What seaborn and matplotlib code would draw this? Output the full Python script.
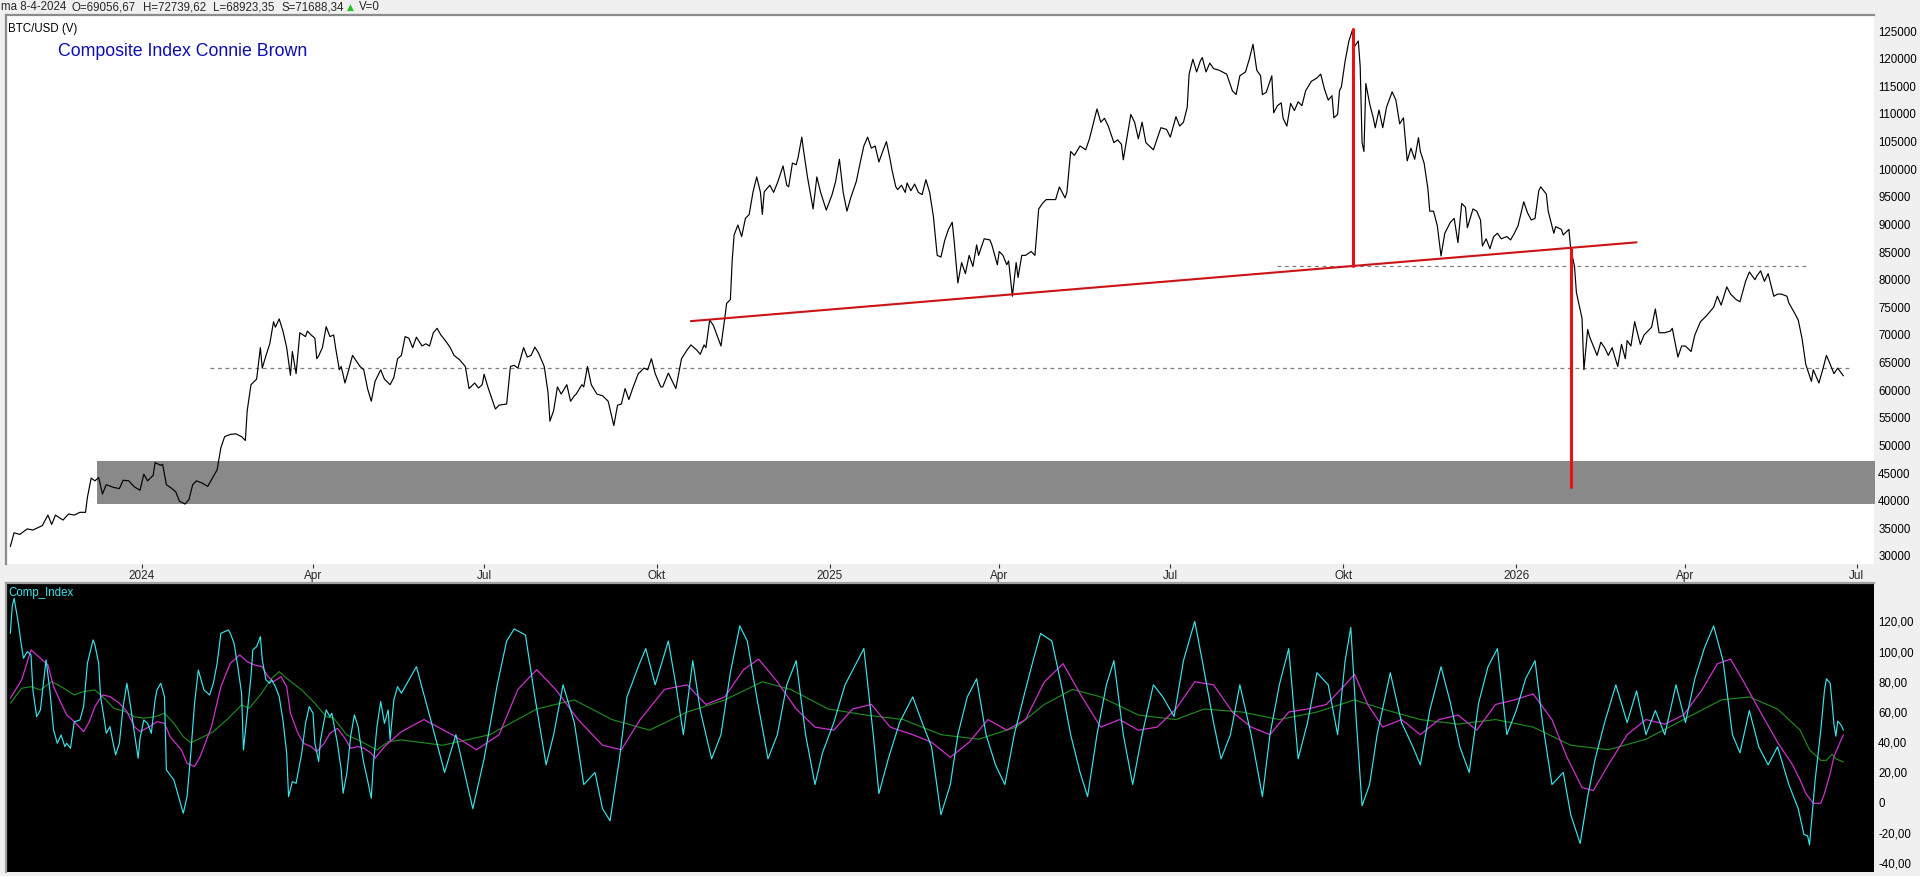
import numpy as np
import pandas as pd
import matplotlib
matplotlib.use("Agg")
import matplotlib.pyplot as plt
import matplotlib.ticker as mticker
import seaborn as sns

# ---------------- data ----------------
BASE = "2024-01-01"
# BTC/USD close, day offset from BASE and value in thousands USD
price_days = [-70,-68,-65,-61,-58,-53,-50,-48,-46,-42,-39,-36,-33,-30,-29,-27,-25,-23,-21,-19,
              -15,-12,-10,-7,-4,-1,1,3,6,7,10,11,13,16,18,20,23,25,27,29,
              32,35,37,40,42,44,47,50,53,55,56,58,61,63,64,66,68,70,71,73,
              75,77,79,80,82,84,87,88,90,92,93,94,96,98,100,102,103,105,106,108,
              110,112,114,116,118,120,122,124,127,129,132,134,136,138,140,142,144,146,149,151,
              153,155,157,159,162,164,166,169,172,174,177,179,181,182,184,188,190,194,196,198,
              200,203,205,207,209,211,214,216,217,219,221,223,226,228,230,231,234,235,237,239,
              242,245,248,251,253,255,257,259,261,264,265,
              267,269,271,273,276,277,280,283,284,287,290,292,295,297,299,300,302,304,308,310,
              311,313,314,315,317,319,321,323,325,327,329,330,331,334,336,338,339,341,343,344,
              346,348,349,351,352,354,357,359,361,364,367,369,371,373,375,377,380,382,384,386,
              388,390,392,394,396,398,399,401,402,404,406,407,409,411,413,415,417,419,421,423,
              425,427,429,431,432,434,436,438,440,442,444,445,448,451,452,455,456,458,460,461,
              463,465,466,468,470,473,475,477,479,481,483,486,488,491,492,494,496,499,502,504,
              506,508,510,512,514,517,519,521,522,526,528,530,532,534,538,540,542,545,547,550,
              552,554,556,557,559,561,563,564,566,568,570,573,577,580,582,584,587,589,591,593,
              595,596,598,601,602,604,
              606,607,609,611,613,615,617,619,622,625,627,629,631,633,634,636,637,638,640,642,
              644,645,647,648,649,650,651,653,655,656,658,660,662,665,667,669,671,672,673,675,
              677,679,680,682,684,685,687,689,691,693,696,698,700,702,704,705,708,710,712,713,
              715,717,719,721,723,726,728,730,732,735,737,739,741,743,744,747,748,751,752,755,
              756,759,760,762,763,766,767,769,770,774,776,778,780,782,785,787,789,790,792,794,
              795,797,799,801,803,805,807,810,813,814,817,819,821,824,826,829,832,836,838,840,
              843,845,848,850,853,855,858,859,861,863,865,868,870,872,875,876,879,881,883,885,
              888,889,892,894,896,898,900,902,905]
price_k = [31.7,34.2,33.9,34.9,34.7,35.5,37.4,35.7,37.4,36.5,37.6,37.4,37.9,37.9,40.6,44.1,43.6,44.2,41.2,42.9,
           42.4,42.2,43.7,43.6,42.5,41.9,44.8,43.6,44.6,46.9,46.4,46.6,42.9,42.2,41.6,39.9,39.4,40.2,42.9,43.6,
           43.2,42.6,43.8,45.6,49.6,51.6,52.0,52.1,51.6,50.9,56.3,61.0,62.0,67.7,64.0,66.3,68.4,72.4,71.4,72.9,
           70.7,67.7,62.7,67.0,63.0,70.4,69.7,70.7,70.0,69.4,65.7,66.2,67.7,71.5,69.7,70.0,67.7,63.7,64.3,61.3,
           63.7,66.3,65.3,64.3,63.7,60.3,58.0,61.6,63.7,62.0,61.0,62.3,65.7,66.3,69.7,69.4,67.7,69.6,68.0,68.4,
           68.0,70.4,71.2,70.0,68.7,67.7,66.3,65.5,64.3,60.3,61.3,60.4,61.0,62.9,60.6,56.6,57.3,57.5,64.3,64.5,
           64.0,67.7,66.0,66.3,67.8,66.7,64.3,59.6,54.4,56.3,60.6,59.3,61.0,58.0,59.0,59.3,61.0,60.6,64.3,61.0,
           59.3,59.0,58.0,53.6,57.3,57.5,60.3,58.3,60.3,63.0,63.3,
           64.0,63.7,65.7,63.0,60.6,60.6,63.1,61.0,60.3,65.7,67.3,68.2,67.3,66.5,68.2,67.7,72.7,71.7,68.0,73.0,
           75.7,76.4,83.7,88.1,89.9,87.8,91.1,91.8,95.8,98.6,95.8,91.8,95.9,97.1,95.8,97.5,98.5,100.6,97.1,96.8,
           101.1,100.8,102.1,105.8,103.2,98.6,92.8,98.6,95.8,92.6,95.3,97.8,101.8,95.8,92.4,94.8,97.8,101.1,104.2,105.8,
           103.8,104.2,101.3,103.2,105.0,101.7,99.8,96.8,96.3,97.1,95.8,97.5,96.1,97.3,95.8,95.4,98.1,95.8,91.4,84.4,
           84.1,87.1,89.1,90.4,87.1,79.4,83.1,81.1,84.4,82.4,86.3,84.4,87.4,87.2,86.4,82.7,85.1,84.4,82.7,83.4,
           77.0,83.1,80.4,84.4,84.4,85.1,84.4,92.8,93.8,94.5,94.5,94.5,96.8,94.8,95.8,103.2,102.5,104.2,103.5,105.5,
           108.2,110.9,108.5,109.2,107.8,104.8,105.3,104.5,101.7,109.9,108.5,105.5,108.5,104.8,103.5,105.5,107.5,107.2,105.8,109.5,
           107.8,108.5,111.2,117.2,119.9,117.6,119.6,120.2,117.6,119.2,118.2,117.9,117.2,114.2,113.5,116.9,117.6,119.9,122.6,117.9,
           116.9,113.5,113.9,116.9,110.2,111.5,
           112.0,109.2,107.8,111.9,110.6,112.2,111.5,114.2,115.9,116.5,117.2,114.5,112.5,113.3,109.3,109.9,114.2,114.9,119.6,123.2,
           125.3,122.2,123.2,118.6,104.8,103.2,115.5,111.9,109.2,107.5,110.7,107.5,111.2,114.0,112.5,108.2,109.3,105.5,101.5,103.8,
           101.8,105.7,103.2,101.1,96.5,92.4,92.4,89.8,84.3,88.4,90.4,91.1,86.7,93.8,93.1,89.4,92.8,92.4,90.8,86.1,
           87.4,85.6,87.8,88.4,87.4,87.8,87.2,88.4,89.8,94.1,92.1,90.8,91.1,96.1,96.8,95.5,92.4,88.4,89.6,89.1,
           88.1,89.1,85.6,82.4,77.7,73.0,63.7,71.0,69.7,66.3,68.7,67.7,66.3,67.7,64.3,68.3,65.7,69.0,68.0,72.4,
           71.0,68.3,70.0,70.7,71.4,74.7,70.4,70.4,70.7,71.2,66.0,68.0,68.0,67.0,70.0,72.4,73.4,75.0,77.0,75.4,
           78.7,77.4,76.4,76.0,79.7,81.4,80.0,80.7,81.6,79.7,81.1,77.0,77.4,77.4,77.0,75.8,74.0,72.7,69.4,64.7,
           61.6,63.7,61.3,63.7,66.3,64.7,63.0,64.0,62.6]

# Composite index (cyan)
ci_days = [-70,-69,-68,-66,-64,-63,-61,-59,-58,-56,-54,-52,-51,-49,-47,-45,-43,-41,-40,-38,
           -36,-33,-31,-29,-26,-25,-23,-22,-20,-19,-17,-16,-14,-12,-10,-8,-6,-4,-2,-1,
           1,3,5,7,8,10,12,13,15,17,19,21,22,24,26,28,30,31,33,36,
           38,40,42,44,46,47,49,51,53,54,56,58,59,61,63,64,66,68,69,71,
           73,75,77,78,80,82,85,87,89,91,92,94,95,98,100,101,104,106,107,109,
           111,113,115,116,118,120,122,123,125,127,129,131,132,134,136,138,
           146,154,161,167,176,182,189,194,198,204,209,215,219,224,230,235,241,245,249,254,
           258,264,268,273,280,284,288,293,297,303,308,313,318,322,327,333,338,343,348,353,
           358,362,368,374,379,384,389,392,397,403,410,415,420,425,430,434,439,444,449,454,
           459,464,469,474,478,484,489,494,499,503,508,513,517,522,527,532,538,543,549,554,
           560,564,570,574,579,584,590,596,600,605,610,615,620,625,631,636,640,643,646,649,
           653,657,664,670,676,680,685,691,696,701,706,711,716,721,726,731,736,741,745,750,
           756,760,765,769,773,778,784,790,795,800,805,810,816,821,826,831,836,841,846,850,
           855,860,865,870,876,881,884,886,887,889,890,893,895,896,898,899,900,901,902,904,905]
ci_vals = [112.1,129.8,135.3,120.9,103.3,95.6,100,97.8,74.6,56.9,61.4,83.4,94.5,74.6,48.1,39.3,44.8,37.1,39.3,36,
           53.6,54.7,63.6,92.2,107.7,104.4,92.2,70.2,54.7,45.9,50.3,43.7,31.6,39.3,63.6,79,63.6,45.9,29.4,42.6,
           54.7,52.5,45.9,68,74.6,79,70.2,21.7,18.4,15,6.2,-2.6,-7,4,32.7,65.8,87.8,83.4,74.6,71.3,
           79,92.2,112.1,113.2,114.3,112.1,105.5,90,72.4,34.9,59.2,83.4,101.1,103.3,109.9,94.5,81.2,79,81.2,76.8,
           70.2,54.7,32.7,4,13.9,12.8,32.7,52.5,63.6,59.2,39.3,27.2,41.5,61.4,56.9,59.2,39.3,21.7,6.2,19.5,
           43.7,58.1,50.3,41.5,26.1,15,2.9,23.9,50.3,66.9,52.5,61.4,41.5,68,76.8,72.4,
           90,53,20,45,-4,29,78,107,115,111,70,25,45,78,53,12,20,-4,-12,29,
           70,90,102,78,107,78,45,94,61,29,45,86,117,107,70,29,45,78,94,45,
           12,33,53,78,90,102,45,6,29,53,70,53,37,-8,12,45,70,82,45,25,
           12,45,70,94,112,107,78,45,20,4,45,78,94,45,12,45,78,70,57,94,
           120,94,53,29,45,78,45,4,45,78,102,29,53,86,78,45,94,116,53,-2,
           12,45,86,53,37,25,61,90,66,37,20,66,90,102,45,61,82,94,53,12,
           20,-8,-27,4,29,53,78,53,74,45,61,45,78,53,82,102,117,94,45,33,
           61,37,25,37,12,-4,-21,-22,-28,1,15,48,75,82,79,66,52,44,54,51,48]
# fast average (magenta)
fast_days = [-70,-64,-59,-54,-50,-47,-43,-40,-36,-31,-28,-25,-21,-17,-12,-8,-4,-1,4,8,
             12,15,21,24,28,31,37,42,47,52,56,60,64,67,70,74,77,79,83,86,
             90,93,97,100,104,108,111,115,118,122,124,129,132,138,
             150,165,178,190,200,210,220,232,245,255,265,278,290,300,310,320,328,338,348,358,
             368,378,388,398,410,420,430,440,450,460,470,480,490,500,510,520,530,540,550,560,
             570,580,590,600,610,620,630,640,645,652,660,670,680,690,700,710,720,730,740,750,
             758,766,772,780,790,800,810,820,830,838,845,852,860,870,878,882,885,889,893,895,
             898,900,903,905]
fast_vals = [69.1,81.2,101.1,95.6,91.1,76.8,65.8,58.1,53.6,47,53.6,63.6,71.3,70.2,65.8,60.3,50.3,47,50.3,53.6,
             52.5,43.7,34.9,26.1,23.9,30.5,50.3,76.8,92.2,97.8,93.3,91.1,90,83.4,80.1,83.4,76.8,59.2,45.9,39.3,
             37.1,33.8,39.3,45.9,49.2,42.6,36,37.1,36,32.7,29.4,37.1,40.4,47,
             55,45,35,45,75,88,75,55,38,35,55,75,78,65,70,88,95,80,62,50,
             48,62,65,50,45,40,30,40,55,48,55,80,92,70,50,55,48,50,62,80,
             78,60,50,45,60,62,65,78,85,65,50,55,45,55,58,48,65,68,72,55,
             30,10,8,25,45,55,52,58,75,92,95,80,62,40,25,15,6.2,-0.4,-0.4,6.2,
             19.4,30.5,39.3,44.8]
# slow average (green)
slow_days = [-70,-64,-59,-54,-48,-43,-36,-31,-25,-20,-15,-9,-4,1,7,12,17,22,26,31,
             38,46,53,57,63,69,73,77,85,92,98,102,109,115,120,125,131,138,
             160,185,210,230,250,270,290,310,330,345,365,385,405,425,445,465,480,495,510,530,
             550,565,585,605,625,645,660,680,700,720,740,760,780,800,820,840,855,870,882,887,
             893,896,899,901,905]
slow_vals = [65.8,75.7,76.8,74.6,80.1,76.8,71.3,73.5,74.6,69.1,62.5,60.3,56.9,55.9,56.9,59.2,52.5,43.7,39.7,42.6,
             47,55.9,64.7,62.5,71.3,82.3,86.7,82.3,74.6,65.8,56.9,55.9,44.8,41.5,38.2,34.9,40.4,41.5,
             38,45,62,68,55,48,60,68,80,75,62,58,55,45,42,50,65,75,70,58,
             55,62,60,55,60,68,62,55,52,55,50,38,35,42,55,68,70,62,48,35,
             28,28,32,29,27]

# annotation lines
neck_days = [292, 795]
neck_vals = [72500, 86760]
vline1_day, vline1_vals = 644, [82400, 125400]
vline2_day, vline2_vals = 760, [42400, 85600]
band_days = [-24, 940]
band_vals = [39450, 47200]
dash_low = ([36, 908], 64100)
dash_high = ([604, 885], 82400)

price_ticks = list(range(30000, 125001, 5000))
ci_ticks = list(range(-40, 121, 20))
xtick_labels = ["2024", "Apr", "Jul", "Okt", "2025", "Apr", "Jul", "Okt", "2026", "Apr", "Jul"]
xtick_dates = ["2024-01-01", "2024-04-01", "2024-07-01", "2024-10-01", "2025-01-01", "2025-04-01",
               "2025-07-01", "2025-10-01", "2026-01-01", "2026-04-01", "2026-07-01"]

# ---------------- helpers ----------------
base = pd.Timestamp(BASE)
def to_dates(days):
    return base + pd.to_timedelta(np.asarray(days, dtype=float), unit="D")

assert len(price_days) == len(price_k), (len(price_days), len(price_k))
assert len(ci_days) == len(ci_vals), (len(ci_days), len(ci_vals))
assert len(fast_days) == len(fast_vals), (len(fast_days), len(fast_vals))
assert len(slow_days) == len(slow_vals), (len(slow_days), len(slow_vals))

price_df = pd.DataFrame({"date": to_dates(price_days), "close": np.array(price_k) * 1000})
ci_df = pd.DataFrame({"date": to_dates(ci_days), "ci": ci_vals})
fast_df = pd.DataFrame({"date": to_dates(fast_days), "v": fast_vals})
slow_df = pd.DataFrame({"date": to_dates(slow_days), "v": slow_vals})

sns.set_style("white")
plt.rcParams["font.family"] = ["Liberation Sans", "DejaVu Sans"]

W, H = 1920, 876
fig = plt.figure(figsize=(W / 100, H / 100), dpi=100, facecolor="#f0f0f0")
L, R = 6, 1874
ax1 = fig.add_axes([L / W, 1 - 564 / H, (R - L) / W, (564 - 15) / H])
ax2 = fig.add_axes([L / W, 1 - 872 / H, (R - L) / W, (872 - 583) / H])

xlim = (base + pd.Timedelta(days=-72.3), base + pd.Timedelta(days=921.3))

# ---------------- top panel ----------------
ax1.set_facecolor("white")
ax1.fill_between(to_dates(band_days), band_vals[0], band_vals[1], color="#898989", lw=0, zorder=1)
ax1.plot(to_dates(dash_low[0]), [dash_low[1]] * 2, color="#7f7f7f", lw=0.9, ls=(0, (3, 3)), zorder=2)
ax1.plot(to_dates(dash_high[0]), [dash_high[1]] * 2, color="#7f7f7f", lw=0.9, ls=(0, (3, 3)), zorder=2)
sns.lineplot(data=price_df, x="date", y="close", ax=ax1, color="black", lw=0.85,
             estimator=None, sort=False, zorder=3)
ax1.plot(to_dates(neck_days), neck_vals, color="#c81414", lw=1.5, zorder=4)
ax1.plot(to_dates([vline1_day] * 2), vline1_vals, color="#e81010", lw=2.2, zorder=4)
ax1.plot(to_dates([vline2_day] * 2), vline2_vals, color="#e81010", lw=2.2, zorder=4)

ax1.set_xlim(*xlim)
ax1.set_ylim(28550, 127900)
ax1.yaxis.tick_right()
ax1.set_yticks(price_ticks)
ax1.yaxis.set_major_formatter(mticker.FuncFormatter(lambda v, p: f"{int(round(v))}"))
ax1.set_xticks(pd.to_datetime(xtick_dates))
ax1.set_xticklabels(xtick_labels)
ax1.tick_params(axis="y", length=0, pad=3, labelsize=8.3, labelcolor="black")
ax1.tick_params(axis="x", length=3, width=0.8, direction="out", pad=1, labelsize=8.5,
                color="#333333", bottom=True)
ax1.set_xlabel("")
ax1.set_ylabel("")
for s in ["right", "bottom"]:
    ax1.spines[s].set_visible(False)
for s in ["left", "top"]:
    ax1.spines[s].set_color("#8c8c8c")
    ax1.spines[s].set_linewidth(1.6)

ax1.text(0.0012, 0.985, "BTC/USD (V)", transform=ax1.transAxes, ha="left", va="top",
         fontsize=8.3, color="black")
ax1.text(52 / (R - L), 1 - (51 - 15) / (564 - 15), "Composite Index Connie Brown",
         transform=ax1.transAxes, ha="left", va="center", fontsize=12.8, color="#0c0cb4")

# ---------------- bottom panel ----------------
ax2.set_facecolor("black")
sns.lineplot(data=slow_df, x="date", y="v", ax=ax2, color="#1f8a1f", lw=0.85, estimator=None, sort=False)
sns.lineplot(data=fast_df, x="date", y="v", ax=ax2, color="#d030d0", lw=0.9, estimator=None, sort=False)
sns.lineplot(data=ci_df, x="date", y="ci", ax=ax2, color="#38e4ec", lw=0.85, estimator=None, sort=False)
ax2.set_xlim(*xlim)
ax2.set_ylim(-45.9, 145.4)
ax2.yaxis.tick_right()
ax2.set_yticks(ci_ticks)
ax2.yaxis.set_major_formatter(mticker.FuncFormatter(
    lambda v, p: "0" if abs(v) < 1e-9 else f"{v:.2f}".replace(".", ",")))
ax2.tick_params(axis="y", length=0, pad=3, labelsize=8.3, labelcolor="black")
ax2.set_xticks([])
ax2.set_xlabel("")
ax2.set_ylabel("")
for s in ["right", "bottom"]:
    ax2.spines[s].set_visible(False)
for s in ["left", "top"]:
    ax2.spines[s].set_color("#a0a0a0")
    ax2.spines[s].set_linewidth(1.6)
ax2.text(0.0012, 0.985, "Comp_Index", transform=ax2.transAxes, ha="left", va="top",
         fontsize=8.3, color="#38e4ec")

# ---------------- header ----------------
hy = 1 - 7.5 / H
fig.text(1 / W, hy, "ma 8-4-2024", ha="left", va="center", fontsize=8.3)
fig.text(72 / W, hy, "O=69056,67", ha="left", va="center", fontsize=8.3)
fig.text(143 / W, hy, "H=72739,62", ha="left", va="center", fontsize=8.3)
fig.text(213 / W, hy, "L=68923,35", ha="left", va="center", fontsize=8.3)
fig.text(282 / W, hy, "S=71688,34", ha="left", va="center", fontsize=8.3)
fig.text(347 / W, hy, "\u25b2", ha="left", va="center", fontsize=6.5, color="#22c422",
         family=["DejaVu Sans"])
fig.text(359 / W, hy, "V=0", ha="left", va="center", fontsize=8.3)

fig.savefig("out.png", dpi=100, facecolor=fig.get_facecolor())
